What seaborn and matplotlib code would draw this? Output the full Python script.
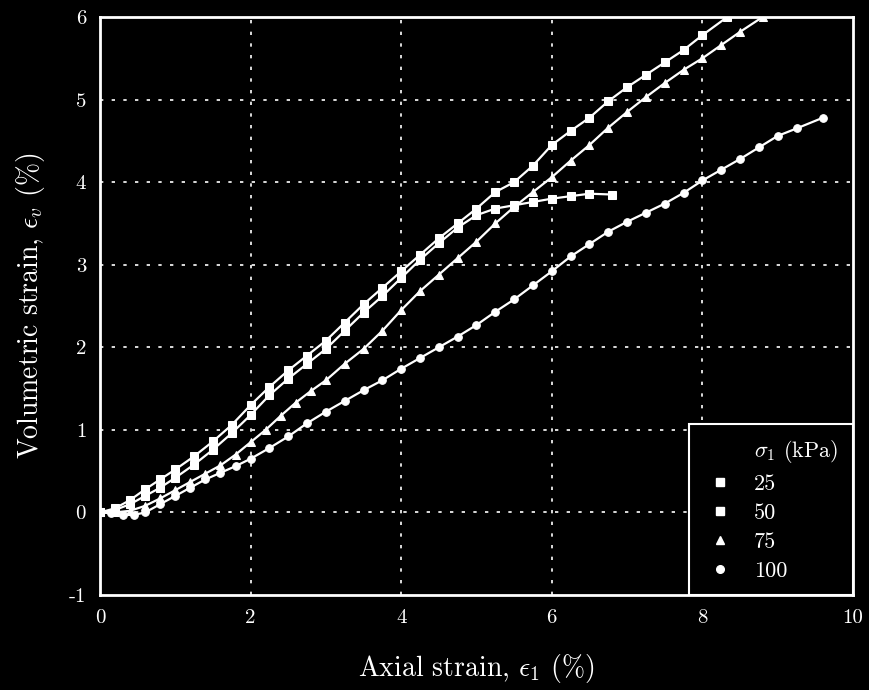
import numpy as np
import pandas as pd
import matplotlib
matplotlib.use("Agg")
import matplotlib.pyplot as plt
from matplotlib.lines import Line2D
import seaborn as sns

# ---- data ----
x25 = [0, 0.2, 0.4, 0.6, 0.8, 1.0, 1.25, 1.5, 1.75, 2.0, 2.25, 2.5, 2.75, 3.0, 3.25, 3.5,
       3.75, 4.0, 4.25, 4.5, 4.75, 5.0, 5.25, 5.5, 5.75, 6.0, 6.25, 6.5, 6.8]
y25 = [0, 0.03, 0.1, 0.2, 0.3, 0.42, 0.58, 0.76, 0.96, 1.18, 1.42, 1.62, 1.8, 1.98, 2.2, 2.42,
       2.62, 2.84, 3.06, 3.26, 3.45, 3.6, 3.68, 3.72, 3.76, 3.8, 3.83, 3.86, 3.85]

x50 = [0, 0.2, 0.4, 0.6, 0.8, 1.0, 1.25, 1.5, 1.75, 2.0, 2.25, 2.5, 2.75, 3.0, 3.25, 3.5,
       3.75, 4.0, 4.25, 4.5, 4.75, 5.0, 5.25, 5.5, 5.75, 6.0, 6.25, 6.5, 6.75, 7.0, 7.25,
       7.5, 7.75, 8.0, 8.33]
y50 = [0, 0.05, 0.15, 0.28, 0.4, 0.52, 0.68, 0.86, 1.06, 1.3, 1.52, 1.72, 1.9, 2.08, 2.3, 2.52,
       2.72, 2.92, 3.12, 3.32, 3.5, 3.68, 3.88, 4.0, 4.2, 4.45, 4.62, 4.78, 4.98, 5.15, 5.3,
       5.45, 5.6, 5.78, 6.0]

x75 = [0, 0.2, 0.4, 0.6, 0.8, 1.0, 1.2, 1.4, 1.6, 1.8, 2.0, 2.2, 2.4, 2.6, 2.8, 3.0, 3.25,
       3.5, 3.75, 4.0, 4.25, 4.5, 4.75, 5.0, 5.25, 5.5, 5.75, 6.0, 6.25, 6.5, 6.75, 7.0,
       7.25, 7.5, 7.75, 8.0, 8.25, 8.5, 8.8]
y75 = [0, 0.0, 0.02, 0.08, 0.17, 0.27, 0.37, 0.47, 0.57, 0.7, 0.85, 1.0, 1.17, 1.33, 1.47, 1.6, 1.8,
       1.98, 2.2, 2.45, 2.68, 2.88, 3.08, 3.28, 3.5, 3.7, 3.88, 4.06, 4.26, 4.45, 4.66, 4.85,
       5.03, 5.2, 5.36, 5.5, 5.66, 5.82, 6.0]

x100 = [0, 0.15, 0.3, 0.45, 0.6, 0.8, 1.0, 1.2, 1.4, 1.6, 1.8, 2.0, 2.25, 2.5, 2.75, 3.0, 3.25,
        3.5, 3.75, 4.0, 4.25, 4.5, 4.75, 5.0, 5.25, 5.5, 5.75, 6.0, 6.25, 6.5, 6.75, 7.0, 7.25,
        7.5, 7.75, 8.0, 8.25, 8.5, 8.75, 9.0, 9.25, 9.6]
y100 = [0, -0.01, -0.03, -0.03, 0.0, 0.1, 0.2, 0.3, 0.4, 0.48, 0.56, 0.65, 0.78, 0.92, 1.08, 1.22,
        1.35, 1.48, 1.6, 1.74, 1.87, 2.0, 2.13, 2.27, 2.43, 2.58, 2.75, 2.92, 3.1, 3.25, 3.4,
        3.52, 3.63, 3.74, 3.87, 4.02, 4.15, 4.28, 4.42, 4.56, 4.65, 4.78]

pressures = ["25", "50", "75", "100"]
legend_title = r"$\sigma_1$ (kPa)"
markers = {"25": "s", "50": "s", "75": "^", "100": "o"}
xticks = [0, 2, 4, 6, 8, 10]
yticks = [-1, 0, 1, 2, 3, 4, 5, 6]

frames = []
for p, xs, ys in zip(pressures, [x25, x50, x75, x100], [y25, y50, y75, y100]):
    frames.append(pd.DataFrame({"x": xs, "y": ys, "p": p}))
df = pd.concat(frames, ignore_index=True)

# ---- style ----
sns.set_theme(style="dark")
plt.rcParams.update({
    "font.family": ["cmr10", "DejaVu Serif"],
    "mathtext.fontset": "cm",
    "axes.unicode_minus": False,
    "axes.formatter.use_mathtext": True,
    "figure.facecolor": "black",
    "axes.facecolor": "black",
    "text.color": "white",
    "axes.labelcolor": "white",
    "xtick.color": "white",
    "ytick.color": "white",
    "axes.edgecolor": "white",
})

fig = plt.figure(figsize=(8.7, 6.9), dpi=100)
ax = fig.add_axes([100 / 870, 1 - 595 / 690, 753 / 870, 578 / 690])
ax.set_facecolor("black")

sns.lineplot(data=df, x="x", y="y", hue="p", style="p", markers=markers, dashes=False,
             palette={p: "white" for p in pressures}, sort=False, estimator=None,
             linewidth=1.6, markersize=5.5, markeredgecolor="white", legend=False, ax=ax)

ax.set_xlim(0, 10)
ax.set_ylim(-1, 6)
ax.set_xticks(xticks)
ax.set_yticks(yticks)
ax.set_xticklabels([str(t) for t in xticks], fontsize=15)
ax.set_yticklabels([str(t) for t in yticks], fontsize=15)
ax.tick_params(axis="both", direction="in", length=4, width=1, pad=10, colors="white")

for sp in ax.spines.values():
    sp.set_visible(True)
    sp.set_color("white")
    sp.set_linewidth(2)

ax.grid(False)
for gx in [2, 4, 6, 8]:
    ax.axvline(gx, color="white", lw=1.2, ls=(0, (2, 5)), zorder=0.5)
for gy in [0, 1, 2, 3, 4, 5]:
    ax.axhline(gy, color="white", lw=1.2, ls=(0, (2, 5)), zorder=0.5)

ax.set_xlabel(r"Axial strain, $\epsilon_1$ (%)", fontsize=20, labelpad=18)
ax.set_ylabel(r"Volumetric strain, $\epsilon_v$ (%)", fontsize=20, labelpad=16)

handles = [Line2D([], [], ls="none", marker=None)]
handles += [Line2D([], [], color="white", marker=markers[p], ls="none", markersize=5.5)
            for p in pressures]
labels = [legend_title] + pressures
leg = ax.legend(handles, labels, loc="lower right",
                frameon=True, fancybox=False, borderaxespad=0.0, fontsize=16,
                labelspacing=0.42, handlelength=1.55, handletextpad=0.75,
                borderpad=0.65)
leg.get_frame().set_facecolor("black")
leg.get_frame().set_edgecolor("white")
leg.get_frame().set_linewidth(1.5)
leg.get_frame().set_alpha(1)
leg.set_zorder(5)
for t in leg.get_texts():
    t.set_color("white")

fig.savefig("out.png", dpi=100, facecolor="black")
